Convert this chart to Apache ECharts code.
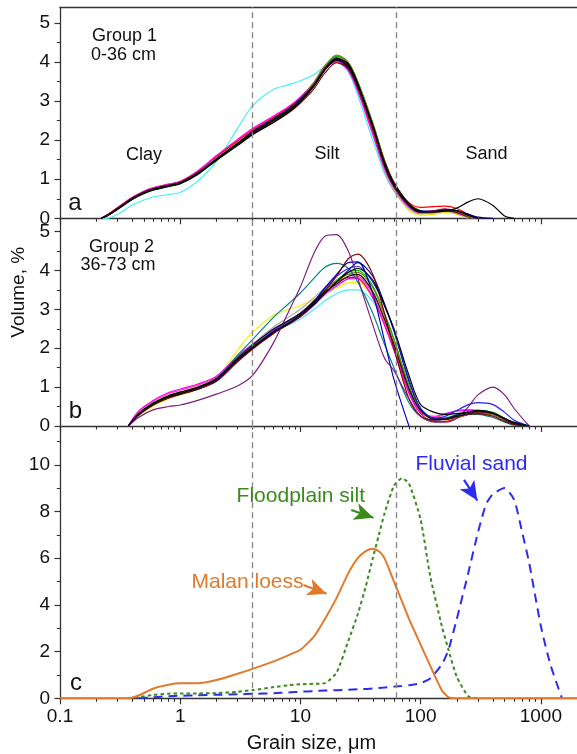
<!DOCTYPE html>
<html><head><meta charset="utf-8">
<script src="https://cdn.jsdelivr.net/npm/echarts@6/dist/echarts.min.js"></script>
<style>html,body{margin:0;padding:0;background:#fff}#c{width:577px;height:754px}</style>
</head><body><div id="c"></div>
<script>
// ---------- tick labels ----------
const majorX = [0.1, 1, 10, 100, 1000];
const minorX = [0.2,0.3,0.4,0.5,0.6,0.7,0.8,0.9, 2,3,4,5,6,7,8,9, 20,30,40,50,60,70,80,90, 200,300,400,500,600,700,800,900];
const abYTicks = [0, 1, 2, 3, 4, 5];
const abYMinor = [0.5, 1.5, 2.5, 3.5, 4.5];
const cYTicks = [0, 2, 4, 6, 8, 10];
const cYMinor = [1, 3, 5, 7, 9, 11];
const boundaries = [4, 63];

// ---------- panel a : Group 1 (0-36 cm) ----------
const aSizes = [0.22,0.25,0.3,0.4,0.5,0.6,0.8,1,1.4,2,3,4,6,8,10,13,16,20,25,30,40,50,60,80,100,130,160,200,250,300,400,500,600,800];
const aCyan    = [0,0,0.1,0.34,0.47,0.55,0.61,0.66,0.95,1.45,2.3,2.88,3.3,3.42,3.52,3.68,3.88,3.98,3.75,3.15,2.0,1.15,0.7,0.28,0.15,0.16,0.2,0.15,0.04,0];
const aYellow  = [0,0.08,0.24,0.5,0.65,0.74,0.83,0.9,1.16,1.55,1.96,2.24,2.57,2.82,3.06,3.44,3.84,4.0,3.85,3.38,2.28,1.3,0.75,0.2,0.08,0.1,0.15,0.1,0];
const aGray    = [0,0.09,0.26,0.52,0.67,0.76,0.85,0.92,1.18,1.56,1.97,2.27,2.6,2.85,3.1,3.5,3.92,4.12,3.88,3.3,2.15,1.2,0.7,0.25,0.12,0.15,0.18,0.12,0.02,0];
const aPink    = [0,0.1,0.27,0.54,0.7,0.79,0.88,0.95,1.22,1.6,2.0,2.28,2.6,2.84,3.08,3.44,3.82,4.0,3.8,3.3,2.2,1.3,0.78,0.28,0.13,0.14,0.18,0.16,0.05,0];
const aRed     = [0,0.1,0.27,0.53,0.68,0.77,0.86,0.93,1.2,1.58,1.98,2.25,2.58,2.83,3.08,3.46,3.85,4.05,3.82,3.3,2.25,1.35,0.85,0.4,0.28,0.3,0.31,0.25,0.1,0];
const aGreen   = [0,0.07,0.22,0.48,0.63,0.72,0.81,0.88,1.12,1.48,1.88,2.16,2.5,2.76,3.02,3.44,3.88,4.15,3.98,3.5,2.45,1.5,0.92,0.38,0.2,0.16,0.18,0.16,0.05,0];
const aMagenta = [0,0.1,0.26,0.53,0.69,0.78,0.87,0.94,1.2,1.6,2.02,2.3,2.62,2.86,3.1,3.46,3.82,4.02,3.78,3.25,2.15,1.28,0.78,0.3,0.15,0.18,0.22,0.14,0.03,0];
const aBlue    = [0,0.08,0.23,0.49,0.64,0.73,0.82,0.89,1.13,1.5,1.9,2.19,2.54,2.8,3.06,3.45,3.85,4.1,3.95,3.45,2.4,1.45,0.9,0.36,0.19,0.18,0.21,0.19,0.1,0];
const aPurple  = [0,0.08,0.25,0.51,0.66,0.75,0.84,0.91,1.15,1.5,1.9,2.2,2.55,2.8,3.05,3.45,3.86,4.08,3.9,3.4,2.32,1.4,0.86,0.34,0.17,0.2,0.24,0.16,0.04,0];
const aWine    = [0,0.09,0.25,0.52,0.67,0.76,0.85,0.92,1.17,1.52,1.9,2.16,2.46,2.7,2.95,3.32,3.72,3.98,3.85,3.42,2.4,1.48,0.92,0.38,0.18,0.16,0.18,0.15,0.04,0];
const aOlive   = [0,0.08,0.24,0.5,0.65,0.74,0.83,0.9,1.14,1.5,1.9,2.2,2.55,2.8,3.05,3.48,3.9,4.18,4.0,3.5,2.42,1.45,0.88,0.34,0.16,0.18,0.22,0.18,0.05,0];
const aNavy    = [0,0.08,0.24,0.5,0.65,0.74,0.83,0.9,1.15,1.52,1.92,2.22,2.55,2.8,3.04,3.42,3.82,4.05,3.9,3.42,2.35,1.4,0.86,0.33,0.16,0.17,0.2,0.19,0.1,0.03,0];
const aBlack2  = [0,0.07,0.23,0.49,0.64,0.73,0.82,0.89,1.13,1.48,1.86,2.14,2.46,2.72,2.98,3.38,3.8,4.1,3.95,3.45,2.35,1.42,0.88,0.34,0.17,0.18,0.22,0.2,0.08,0];
const aBlackSand = [0,0.08,0.24,0.5,0.66,0.75,0.84,0.91,1.16,1.5,1.9,2.18,2.5,2.75,3.0,3.4,3.8,4.05,3.9,3.42,2.38,1.42,0.88,0.36,0.18,0.17,0.19,0.26,0.42,0.5,0.33,0.06,0];
const aBlack1  = [0,0.08,0.24,0.5,0.65,0.74,0.83,0.9,1.15,1.52,1.92,2.2,2.53,2.78,3.03,3.42,3.82,4.07,3.85,3.35,2.3,1.35,0.82,0.32,0.16,0.17,0.2,0.19,0.07,0];

// ---------- panel b : Group 2 (36-73 cm) ----------
const bSizes = [0.37,0.45,0.6,0.8,1,1.4,2,3,4,6,8,10,13,16,20,25,30,40,50,60,80,100,130,160,200,250,300,400,500,600,800];
const bCyan    = [0,0.3,0.57,0.75,0.84,0.98,1.22,1.78,2.1,2.45,2.6,2.75,3.0,3.22,3.4,3.5,3.5,3.2,2.65,2.05,1.0,0.42,0.2,0.22,0.3,0.38,0.4,0.33,0.18,0.06,0];
const bYellow  = [0,0.26,0.52,0.7,0.8,0.94,1.22,1.95,2.42,2.85,3.0,3.1,3.25,3.4,3.55,3.68,3.7,3.3,2.65,2.0,0.9,0.38,0.18,0.2,0.28,0.34,0.36,0.3,0.15,0.05,0];
const bGray    = [0,0.3,0.57,0.75,0.84,0.97,1.2,1.75,2.1,2.55,2.8,3.0,3.3,3.55,3.75,3.9,3.88,3.4,2.7,2.05,0.92,0.38,0.18,0.18,0.25,0.32,0.35,0.3,0.16,0.05,0];
const bPink    = [0,0.36,0.64,0.83,0.92,1.05,1.26,1.76,2.06,2.42,2.62,2.8,3.1,3.38,3.6,3.8,3.85,3.4,2.7,2.05,0.9,0.36,0.22,0.3,0.4,0.42,0.4,0.3,0.15,0.05,0];
const bRed     = [0,0.28,0.55,0.73,0.82,0.95,1.17,1.7,2.02,2.45,2.7,2.9,3.22,3.5,3.7,3.82,3.8,3.3,2.6,1.95,0.85,0.32,0.12,0.12,0.2,0.3,0.35,0.3,0.2,0.05,0];
const bGreen   = [0,0.32,0.6,0.78,0.87,1.0,1.22,1.72,2.05,2.45,2.68,2.88,3.2,3.5,3.75,3.95,4.0,3.6,2.9,2.25,1.05,0.45,0.2,0.2,0.28,0.36,0.4,0.35,0.2,0.08,0];
const bMagenta = [0,0.38,0.66,0.86,0.95,1.08,1.28,1.8,2.1,2.48,2.7,2.88,3.15,3.4,3.6,3.78,3.8,3.3,2.6,1.95,0.85,0.35,0.25,0.32,0.38,0.4,0.38,0.3,0.15,0.05,0];
const bOlive   = [0,0.27,0.54,0.72,0.81,0.94,1.15,1.66,1.98,2.4,2.64,2.85,3.18,3.48,3.72,3.9,3.95,3.55,2.85,2.2,1.0,0.4,0.18,0.16,0.22,0.3,0.33,0.28,0.15,0.05,0];
const bTeal    = [0,0.3,0.56,0.73,0.82,0.95,1.2,1.82,2.22,2.8,3.15,3.42,3.8,4.08,4.18,4.05,3.7,2.9,2.1,1.5,0.6,0.25,0.15,0.18,0.25,0.3,0.3,0.22,0.1,0.02,0];
const bNavy    = [0,0.28,0.55,0.73,0.82,0.95,1.16,1.68,2.0,2.4,2.62,2.82,3.12,3.42,3.7,4.0,4.2,3.85,3.15,2.45,1.15,0.45,0.2,0.2,0.28,0.35,0.38,0.32,0.18,0.06,0];
const bBlue2   = [0,0.3,0.57,0.75,0.84,0.97,1.18,1.7,2.02,2.45,2.7,2.9,3.22,3.55,3.85,4.05,4.1,3.7,3.1,2.45,1.2,0.45,0.2,0.25,0.4,0.55,0.6,0.55,0.35,0.15,0];
const bBlue    = [0,0.29,0.56,0.74,0.83,0.96,1.18,1.7,2.02,2.42,2.65,2.85,3.2,3.55,3.9,4.2,4.22,3.4,2.2,1.2,0];
const bWine    = [0,0.28,0.55,0.72,0.82,0.95,1.15,1.65,1.98,2.38,2.62,2.82,3.15,3.48,3.85,4.3,4.42,3.9,2.9,2.0,0.7,0.25,0.15,0.18,0.25,0.3,0.32,0.25,0.12,0.04,0];
const bPurple  = [0,0.22,0.42,0.5,0.54,0.66,0.82,1.03,1.3,2.15,2.95,3.58,4.45,4.88,4.92,4.5,3.8,2.6,1.75,1.42,0.7,0.25,0.1,0.1,0.2,0.5,0.8,1.0,0.8,0.45,0];
const bBlack2  = [0,0.32,0.6,0.78,0.87,1.0,1.22,1.72,2.02,2.42,2.65,2.85,3.15,3.42,3.7,3.95,4.05,3.75,3.1,2.5,1.3,0.55,0.35,0.3,0.32,0.36,0.4,0.34,0.2,0.1,0];
const bBlack   = [0,0.3,0.57,0.75,0.84,0.98,1.2,1.75,2.08,2.5,2.72,2.9,3.2,3.45,3.65,3.85,3.9,3.45,2.75,2.1,0.95,0.4,0.17,0.17,0.24,0.32,0.37,0.32,0.18,0.08,0];

// ---------- panel c : end members ----------
const cSizes = [0.1,0.2,0.3,0.37,0.45,0.6,0.8,1,1.4,2,3,4,6,8,10,13,16,20,25,30,35,40,45,50,60,70,80,100,120,150,170,200,250,300,350,400,500,600,700,800,1000,1200,1500,2000];
const malanLoess     = [0,0,0,0,0.12,0.42,0.58,0.64,0.64,0.78,1.05,1.26,1.58,1.85,2.08,2.65,3.4,4.3,5.35,6.0,6.3,6.4,6.3,6.0,5.0,4.15,3.4,2.3,1.4,0.35,0.05,0,0,0,0,0,0,0,0,0,0,0,0,0];
const floodplainSilt = [null,null,null,0,0.05,0.15,0.2,0.21,0.21,0.22,0.28,0.35,0.48,0.56,0.6,0.62,0.65,1.1,2.45,3.6,4.8,6.0,7.0,7.9,9.1,9.42,9.2,7.65,5.25,3.1,2.1,0.92,0.08,0];
const fluvialSand    = [null,null,null,null,0,0.05,0.09,0.11,0.13,0.15,0.17,0.19,0.22,0.25,0.28,0.31,0.33,0.35,0.37,0.39,0.4,0.42,0.44,0.46,0.5,0.53,0.56,0.65,0.85,1.45,2.05,3.4,5.4,7.1,8.3,8.75,9.0,8.5,7.1,5.8,3.1,1.45,0];

// annotation arrows [start, end] in data coordinates
const arrowFlood  = [[26.5, 8.06], [40.5, 7.73]];
const arrowMalan  = [[10.6, 4.85], [16.5, 4.48]];
const arrowFluv   = [[229.6, 9.35], [296.5, 8.47]];

// ---------- build ----------
const AX = '#333';
const FONT = 'Liberation Sans, Arial, sans-serif';
const xMin = 0.1, xMax = 2000;
function pts(sizes, vals) {
  const out = [];
  for (let i = 0; i < vals.length; i++) if (vals[i] !== null && vals[i] !== undefined) out.push([sizes[i], vals[i]]);
  return out;
}
const grids = [
  { left: 60, top: 7.3, width: 520.4, height: 211 },
  { left: 60, top: 218.3, width: 520.4, height: 207.7 },
  { left: 60, top: 426, width: 520.4, height: 272.3 }
];
const yMaxes = [5.4, 5.34, 11.66];
const xAxes = [], yAxes = [];
for (let g = 0; g < 3; g++) {
  xAxes.push({
    type: 'log', logBase: 10, gridIndex: g, min: xMin, max: xMax, position: 'bottom',
    axisLine: { show: true, lineStyle: { color: AX, width: 1.3 } },
    axisTick: { show: true, customValues: majorX, length: 6, lineStyle: { color: AX, width: 1.2 } },
    axisLabel: g === 2 ? { show: true, customValues: majorX, margin: 9, fontSize: 19, fontFamily: FONT, color: '#111',
      formatter: v => (v < 1 ? String(Math.round(v * 10) / 10) : String(Math.round(v))) } : { show: false },
    splitLine: { show: false }, minorTick: { show: false }
  });
  xAxes.push({
    type: 'log', logBase: 10, gridIndex: g, min: xMin, max: xMax, position: 'bottom',
    axisLine: { show: false },
    axisTick: { show: true, customValues: minorX, length: 3.5, lineStyle: { color: AX, width: 1.1 } },
    axisLabel: { show: false }, splitLine: { show: false }
  });
  const ticks = g === 2 ? cYTicks : abYTicks;
  const minor = g === 2 ? cYMinor : abYMinor;
  yAxes.push({
    type: 'value', gridIndex: g, min: 0, max: yMaxes[g], position: 'left',
    axisLine: { show: true, lineStyle: { color: AX, width: 1.3 } },
    axisTick: { show: true, customValues: ticks, length: 5.5, lineStyle: { color: AX, width: 1.2 } },
    axisLabel: { show: true, customValues: ticks, margin: 10, fontSize: 19, fontFamily: FONT, color: '#111' },
    splitLine: { show: false }
  });
  yAxes.push({
    type: 'value', gridIndex: g, min: 0, max: yMaxes[g], position: 'left',
    axisLine: { show: false },
    axisTick: { show: true, customValues: minor, length: 3.2, lineStyle: { color: AX, width: 1.1 } },
    axisLabel: { show: false }, splitLine: { show: false }
  });
}
// top frame line of panel a
xAxes.push({
  type: 'log', logBase: 10, gridIndex: 0, min: xMin, max: xMax, position: 'top',
  axisLine: { show: true, lineStyle: { color: AX, width: 1.3 } },
  axisTick: { show: false }, axisLabel: { show: false }, splitLine: { show: false }
});
const xIdx = [0, 2, 4], yIdx = [0, 2, 4];

const series = [];
function boundaryLines() {
  return {
    silent: true, symbol: ['none', 'none'], label: { show: false },
    lineStyle: { color: '#8a8a8a', type: [6, 4], width: 1.4 },
    data: boundaries.map(b => ({ xAxis: b }))
  };
}
function addGroup(g, sizes, list) {
  list.forEach((c, i) => {
    const s = {
      type: 'line', xAxisIndex: xIdx[g], yAxisIndex: yIdx[g], data: pts(sizes, c[0]),
      showSymbol: false, smooth: 0.3, lineStyle: { color: c[1], width: 1.15 }, itemStyle: { color: c[1] },
      z: 3
    };
    if (i === 0) s.markLine = boundaryLines();
    series.push(s);
  });
}
addGroup(0, aSizes, [
  [aCyan, '#40f0f0'], [aYellow, '#e6e600'], [aGray, '#a8a8a8'], [aPink, '#ff40a0'], [aRed, '#ff0000'],
  [aGreen, '#00b000'], [aMagenta, '#ff00ff'], [aBlue, '#0000ff'], [aPurple, '#800080'], [aWine, '#800000'],
  [aOlive, '#808000'], [aNavy, '#000080'], [aBlack2, '#000000'], [aBlackSand, '#000000'], [aBlack1, '#101010']
]);
addGroup(1, bSizes, [
  [bCyan, '#40f0f0'], [bYellow, '#f0f000'], [bGray, '#a8a8a8'], [bPink, '#ff40a0'], [bRed, '#ff0000'],
  [bGreen, '#00c000'], [bMagenta, '#ff00ff'], [bOlive, '#808000'], [bTeal, '#008080'], [bNavy, '#000080'],
  [bBlue2, '#2020ff'], [bBlue, '#0000c0'], [bWine, '#800000'], [bPurple, '#7a1a7a'], [bBlack2, '#000000'], [bBlack, '#101010']
]);
const cGreen = '#3a8a1c', cBlue = '#2b2bf2', cOrange = '#e07a2c';
function arrow(a, color) {
  return {
    silent: true, symbol: ['none', 'arrow'], symbolSize: [13, 19], label: { show: false },
    lineStyle: { color: color, type: 'solid', width: 2.2 }, itemStyle: { color: color },
    data: [[{ coord: a[0] }, { coord: a[1] }]]
  };
}
series.push({
  type: 'line', xAxisIndex: 4, yAxisIndex: 4, data: pts(cSizes, fluvialSand), showSymbol: false, smooth: 0.2,
  lineStyle: { color: cBlue, width: 2, type: [9, 6] }, itemStyle: { color: cBlue },
  markLine: boundaryLines()
});
series.push({
  type: 'line', xAxisIndex: 4, yAxisIndex: 4, data: pts(cSizes, fluvialSand), showSymbol: false,
  lineStyle: { opacity: 0 }, itemStyle: { color: cBlue }, markLine: arrow(arrowFluv, cBlue)
});
series.push({
  type: 'line', xAxisIndex: 4, yAxisIndex: 4, data: pts(cSizes, floodplainSilt), showSymbol: false, smooth: 0.2,
  lineStyle: { color: cGreen, width: 2, type: [3.5, 3] }, itemStyle: { color: cGreen },
  markLine: arrow(arrowFlood, cGreen)
});
series.push({
  type: 'line', xAxisIndex: 4, yAxisIndex: 4, data: pts(cSizes, malanLoess), showSymbol: false, smooth: 0.2,
  lineStyle: { color: cOrange, width: 2 }, itemStyle: { color: cOrange },
  markLine: arrow(arrowMalan, cOrange)
});

function txt(t, x, y, size, color, extra) {
  return Object.assign({
    type: 'text', x: x, y: y, z: 100, silent: true,
    style: { text: t, fontSize: size, fontFamily: FONT, fill: color || '#111', align: 'center', verticalAlign: 'middle' }
  }, extra || {});
}
const graphic = [
  txt('Group 1', 124.5, 36, 18), txt('0-36 cm', 123.5, 55.4, 18),
  txt('Group 2', 121.5, 247, 18), txt('36-73 cm', 118, 265.4, 18),
  txt('Clay', 144, 154.7, 18), txt('Silt', 327, 154.4, 18), txt('Sand', 486.5, 154.4, 18),
  txt('a', 75, 203.3, 24), txt('b', 75.5, 411.6, 24), txt('c', 76, 683.3, 24),
  txt('Floodplain silt', 300.8, 496.6, 21, cGreen), txt('Malan loess', 247.5, 582, 21, cOrange),
  txt('Fluvial sand', 471.5, 464.3, 21, cBlue),
  txt('Grain size, \u03bcm', 311.5, 743, 20),
  txt('Volume, %', 18.4, 292.3, 19, '#111', { rotation: Math.PI / 2 })
];

const chart = echarts.init(document.getElementById('c'), null, { renderer: 'canvas' });
chart.setOption({
  animation: false, backgroundColor: '#fff',
  grid: grids, xAxis: xAxes, yAxis: yAxes, series: series, graphic: graphic
});
</script></body></html>
